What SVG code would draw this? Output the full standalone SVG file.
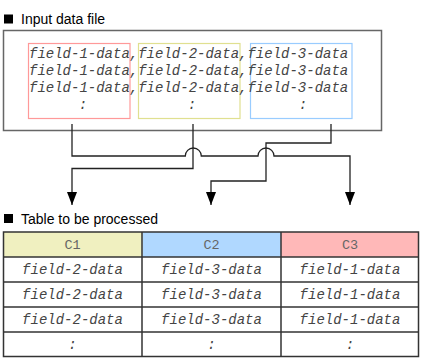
<svg xmlns="http://www.w3.org/2000/svg" width="423" height="361" viewBox="0 0 423 361">
<style>
.title{font-family:"Liberation Sans",Arial,sans-serif;font-size:14px;fill:#000}
.mono{font-family:"Liberation Mono","Courier New",monospace;font-size:14px;font-style:italic;fill:#444}
.hdr{font-family:"Liberation Mono","Courier New",monospace;font-size:13.5px;fill:#666;text-anchor:middle}
.mid{text-anchor:middle}
.conn{fill:none;stroke:#222;stroke-width:1.3}
.cell{stroke:#333;stroke-width:1.5}
</style>
<defs>
<marker id="arr" markerUnits="userSpaceOnUse" markerWidth="14" markerHeight="10" refX="13" refY="5" orient="auto" viewBox="0 0 14 10">
<path d="M0,0 L13,5 L0,10 Z" fill="#000"/>
</marker>
</defs>
<g id="title-input"><rect x="4" y="14.5" width="9" height="9" fill="#000"/><text class="title" x="21" y="23.5">Input data file</text></g>
<g id="input-file">
<rect x="3.5" y="30.5" width="378" height="100" fill="#fff" stroke="#666" stroke-width="1.5"/>
<rect x="28.5" y="43.5" width="101.5" height="75" fill="none" stroke="#ff9999" stroke-width="1.2"/>
<rect x="138.5" y="43.5" width="101.5" height="75" fill="none" stroke="#e0e090" stroke-width="1.2"/>
<rect x="250.5" y="43.5" width="101.5" height="75" fill="none" stroke="#99ccff" stroke-width="1.2"/>
<text class="mono" x="29" y="58">field-1-data,field-2-data,field-3-data</text>
<text class="mono" x="29" y="75">field-1-data,field-2-data,field-3-data</text>
<text class="mono" x="29" y="92">field-1-data,field-2-data,field-3-data</text>
<text class="mono mid" x="83" y="109">:</text>
<text class="mono mid" x="192" y="109">:</text>
<text class="mono mid" x="303" y="109">:</text>
</g>
<g id="connectors">
<path class="conn" d="M72,124 V156 H185.3 A8,8 0 0 1 201.3,156 H258 A8,8 0 0 1 274,156 H350 V205" marker-end="url(#arr)"/>
<path class="conn" d="M193,124 V168.5 H72 V205" marker-end="url(#arr)"/>
<path class="conn" d="M331,124 V143 H266 V181 H211 V205" marker-end="url(#arr)"/>
</g>
<g id="title-table"><rect x="4" y="214" width="9" height="9" fill="#000"/><text class="title" x="21" y="224">Table to be processed</text></g>
<g id="table">
<rect x="3.5" y="232" width="139" height="25" fill="#f0f0c0"/>
<rect x="142.5" y="232" width="138.5" height="25" fill="#b0d8ff"/>
<rect x="281" y="232" width="137.5" height="25" fill="#ffb8b8"/>
<rect class="cell" x="3.5" y="232" width="415" height="124.5" fill="none"/>
<line class="cell" x1="3.5" y1="257" x2="418.5" y2="257"/>
<line class="cell" x1="3.5" y1="282" x2="418.5" y2="282"/>
<line class="cell" x1="3.5" y1="307" x2="418.5" y2="307"/>
<line class="cell" x1="3.5" y1="332" x2="418.5" y2="332"/>
<line class="cell" x1="142" y1="232" x2="142" y2="356.5"/>
<line class="cell" x1="281" y1="232" x2="281" y2="356.5"/>
<text class="hdr" x="72.5" y="248.5">C1</text>
<text class="hdr" x="211.5" y="248.5">C2</text>
<text class="hdr" x="350" y="248.5">C3</text>
<text class="mono mid" x="72.5" y="273.5">field-2-data</text>
<text class="mono mid" x="211.5" y="273.5">field-3-data</text>
<text class="mono mid" x="350" y="273.5">field-1-data</text>
<text class="mono mid" x="72.5" y="298.5">field-2-data</text>
<text class="mono mid" x="211.5" y="298.5">field-3-data</text>
<text class="mono mid" x="350" y="298.5">field-1-data</text>
<text class="mono mid" x="72.5" y="323.5">field-2-data</text>
<text class="mono mid" x="211.5" y="323.5">field-3-data</text>
<text class="mono mid" x="350" y="323.5">field-1-data</text>
<text class="mono mid" x="72.5" y="348.5">:</text>
<text class="mono mid" x="211.5" y="348.5">:</text>
<text class="mono mid" x="350" y="348.5">:</text>
</g>
</svg>
